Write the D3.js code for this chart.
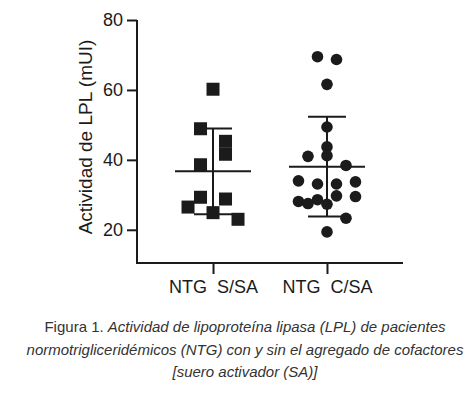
<!DOCTYPE html>
<html>
<head>
<meta charset="utf-8">
<script src="https://d3js.org/d3.v7.min.js"></script>
<style>
  body { margin: 0; background: #fff; }
  svg { display: block; }
</style>
</head>
<body>
<div id="chart"></div>
<script>
// groups and measured LPL activity (mUI)
const groups = ["NTG  S/SA", "NTG  C/SA"];
const yTicks = [20, 40, 60, 80];

const sinSA = [60.2, 48.9, 45.3, 41.6, 38.6, 29.3, 28.8, 26.5, 24.9, 23.0];
const sinSA_lane = [0, -1, 1, 1, -1, -1, 1, -2, 0, 2];

const conSA = [69.5, 68.7, 61.6, 49.4, 43.7, 41.0, 41.2, 38.4, 34.0, 33.1,
               33.1, 33.7, 29.7, 29.5, 28.1, 27.5, 28.6, 27.3, 23.3, 19.4];
const conSA_lane = [-1, 1, 0, 0, 0, -2, 0, 2, -3, -1, 1, 3, 1, 3, -3, -2, -1, 0, 2, 0];

const width = 470, height = 394;
const ink = "#1b1b1b";

const svg = d3.select("#chart").append("svg")
    .attr("width", width)
    .attr("height", height);

svg.append("rect").attr("width", width).attr("height", height).attr("fill", "#fff");

const y = d3.scaleLinear().domain([10.5, 80]).range([263, 20]);
const x = d3.scalePoint().domain(groups).range([137, 403]).padding(0.667);

// axes
const yAxis = svg.append("g")
    .attr("transform", "translate(137,0)")
    .call(d3.axisLeft(y).tickValues(yTicks).tickSize(10).tickPadding(4).tickSizeOuter(0));
yAxis.select(".domain").remove();
yAxis.selectAll(".tick line").attr("stroke", ink).attr("stroke-width", 2);
yAxis.selectAll(".tick text")
    .attr("fill", ink)
    .style("font-family", "Liberation Sans, Arial, sans-serif")
    .style("font-size", "18px");

const xAxis = svg.append("g")
    .attr("transform", "translate(0,263)")
    .call(d3.axisBottom(x).tickSize(11).tickPadding(6).tickSizeOuter(0));
xAxis.select(".domain").remove();
xAxis.selectAll(".tick line").attr("stroke", ink).attr("stroke-width", 2);
xAxis.selectAll(".tick text")
    .attr("fill", ink)
    .style("font-family", "Liberation Sans, Arial, sans-serif")
    .style("font-size", "18px")
    .style("white-space", "pre");

// axis lines (L shape)
svg.append("path")
    .attr("d", `M137,${y(80)}V263H403`)
    .attr("fill", "none")
    .attr("stroke", ink)
    .attr("stroke-width", 2);

svg.append("text")
    .attr("transform", "translate(92,137) rotate(-90)")
    .attr("text-anchor", "middle")
    .attr("fill", ink)
    .style("font-family", "Liberation Sans, Arial, sans-serif")
    .style("font-size", "19px")
    .text("Actividad de LPL (mUI)");

// mean ± SD
function meanSD(vals, g) {
  const m = d3.mean(vals), sd = d3.deviation(vals), cx = x(g);
  const gg = svg.append("g").attr("stroke", ink).attr("stroke-width", 2);
  gg.append("line").attr("x1", cx - 38).attr("x2", cx + 38).attr("y1", y(m)).attr("y2", y(m));
  gg.append("line").attr("x1", cx).attr("x2", cx).attr("y1", y(m + sd)).attr("y2", y(m - sd));
  [m + sd, m - sd].forEach(v => {
    gg.append("line").attr("x1", cx - 19).attr("x2", cx + 19).attr("y1", y(v)).attr("y2", y(v));
  });
}
meanSD(sinSA, groups[0]);
meanSD(conSA, groups[1]);

// points
const sq = 13;
svg.append("g").selectAll("rect")
  .data(sinSA)
  .join("rect")
    .attr("x", (d, i) => x(groups[0]) + sinSA_lane[i] * 12.5 - sq / 2)
    .attr("y", d => y(d) - sq / 2)
    .attr("width", sq)
    .attr("height", sq)
    .attr("fill", ink);

svg.append("g").selectAll("circle")
  .data(conSA)
  .join("circle")
    .attr("cx", (d, i) => x(groups[1]) + conSA_lane[i] * 9.5)
    .attr("cy", d => y(d))
    .attr("r", 5.8)
    .attr("fill", ink);

// caption
const cap = svg.append("text")
    .attr("text-anchor", "middle")
    .attr("fill", "#333")
    .style("font-family", "Liberation Sans, Arial, sans-serif")
    .style("font-size", "15px");
const l1 = cap.append("tspan").attr("x", 245).attr("y", 332);
l1.append("tspan").text("Figura 1. ");
l1.append("tspan").style("font-style", "italic").text("Actividad de lipoproteína lipasa (LPL) de pacientes");
cap.append("tspan").attr("x", 245).attr("y", 355).style("font-style", "italic")
    .text("normotrigliceridémicos (NTG) con y sin el agregado de cofactores");
cap.append("tspan").attr("x", 245).attr("y", 377).style("font-style", "italic")
    .text("[suero activador (SA)]");
</script>
</body>
</html>
